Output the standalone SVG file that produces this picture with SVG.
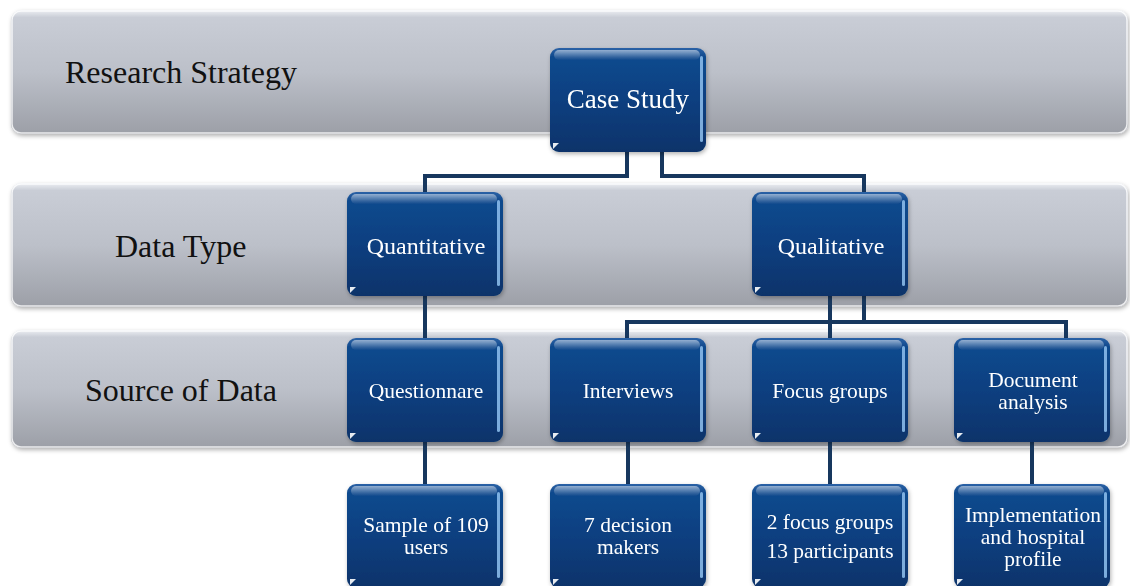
<svg xmlns="http://www.w3.org/2000/svg" width="1130" height="586" viewBox="0 0 1130 586">
<defs>
<linearGradient id="bandG" x1="0" y1="0" x2="0" y2="1">
<stop offset="0" stop-color="#eef0f4"/>
<stop offset="0.06" stop-color="#c9cdd6"/>
<stop offset="0.5" stop-color="#bcc0c9"/>
<stop offset="1" stop-color="#9c9fa7"/>
</linearGradient>
<linearGradient id="nodeG" x1="0" y1="0" x2="0" y2="1">
<stop offset="0" stop-color="#2d62a6"/>
<stop offset="0.08" stop-color="#104a8e"/>
<stop offset="0.5" stop-color="#0b3f80"/>
<stop offset="1" stop-color="#08336a"/>
</linearGradient>
<linearGradient id="gloss" x1="0" y1="0" x2="0" y2="1">
<stop offset="0" stop-color="#ffffff" stop-opacity="0.5"/>
<stop offset="1" stop-color="#ffffff" stop-opacity="0"/>
</linearGradient>
<filter id="sh" x="-10%" y="-10%" width="120%" height="130%">
<feDropShadow dx="1" dy="2" stdDeviation="2" flood-color="#000" flood-opacity="0.3"/>
</filter>
<symbol id="node" viewBox="0 0 156 104" width="156" height="104">
<rect x="0" y="0" width="156" height="104" rx="9" fill="url(#nodeG)"/>
<rect x="4" y="2" width="146" height="10" rx="5" fill="url(#gloss)"/>
<rect x="150" y="8" width="3" height="86" rx="1.5" fill="#8fc1ee" opacity="0.85"/>
<path d="M3,101 L3,95 L9,95 Z" fill="#ffffff" opacity="0.9"/>
</symbol>
</defs>
<style>
.band{fill:url(#bandG);filter:url(#sh)}
.bandhl{fill:none;stroke:#ffffff;stroke-opacity:0.8;stroke-width:1.5}
.lab{font-family:"Liberation Serif","Times New Roman",serif;font-size:32px;fill:#111}
.nt{font-family:"Liberation Serif","Times New Roman",serif;font-size:21.5px;fill:#ffffff;text-anchor:middle}
.nb{filter:url(#sh)}
.con{fill:none;stroke:#17375e;stroke-width:4}
</style>
<rect width="1130" height="586" fill="#ffffff"/>
<g id="bands">
<rect class="band" x="11" y="10" width="1117" height="124" rx="10"/>
<rect class="bandhl" x="12" y="11" width="1115" height="122" rx="9"/>
<rect class="band" x="11" y="183" width="1117" height="124" rx="10"/>
<rect class="bandhl" x="12" y="184" width="1115" height="122" rx="9"/>
<rect class="band" x="11" y="330" width="1117" height="118" rx="10"/>
<rect class="bandhl" x="12" y="331" width="1115" height="116" rx="9"/>
<text class="lab" x="65" y="83">Research Strategy</text>
<text class="lab" x="115" y="257">Data Type</text>
<text class="lab" x="85" y="401">Source of Data</text>
</g>
<g id="connectors">
<path class="con" d="M627,150 V176 H425 V194"/>
<path class="con" d="M662,150 V176 H864 V194"/>
<path class="con" d="M425,294 V340"/>
<path class="con" d="M830,294 V340"/>
<path class="con" d="M864,294 V322 H627 V340"/>
<path class="con" d="M864,322 H1066 V340"/>
<path class="con" d="M425,440 V486"/>
<path class="con" d="M628,440 V486"/>
<path class="con" d="M830,440 V486"/>
<path class="con" d="M1032,440 V486"/>
</g>
<g id="n-case" class="nb"><use href="#node" x="550" y="48"/><text class="nt" x="628" y="108" style="font-size:27px">Case Study</text></g>
<g id="n-quant" class="nb"><use href="#node" x="347" y="192"/><text class="nt" x="426" y="254" style="font-size:24px">Quantitative</text></g>
<g id="n-qual" class="nb"><use href="#node" x="752" y="192"/><text class="nt" x="831" y="254" style="font-size:24px">Qualitative</text></g>
<g id="n-questionnare" class="nb"><use href="#node" x="347" y="338"/><text class="nt" x="426" y="398">Questionnare</text></g>
<g id="n-interviews" class="nb"><use href="#node" x="550" y="338"/><text class="nt" x="628" y="398">Interviews</text></g>
<g id="n-focus" class="nb"><use href="#node" x="752" y="338"/><text class="nt" x="830" y="398">Focus groups</text></g>
<g id="n-doc" class="nb"><use href="#node" x="954" y="338"/><text class="nt" x="1033" y="387">Document</text><text class="nt" x="1033" y="409">analysis</text></g>
<g id="n-sample" class="nb"><use href="#node" x="347" y="484"/><text class="nt" x="426" y="532">Sample of 109</text><text class="nt" x="426" y="554">users</text></g>
<g id="n-decision" class="nb"><use href="#node" x="550" y="484"/><text class="nt" x="628" y="532">7 decision</text><text class="nt" x="628" y="554">makers</text></g>
<g id="n-fg" class="nb"><use href="#node" x="752" y="484"/><text class="nt" x="830" y="529">2 focus groups</text><text class="nt" x="830" y="558">13 participants</text></g>
<g id="n-impl" class="nb"><use href="#node" x="954" y="484"/><text class="nt" x="1033" y="522">Implementation</text><text class="nt" x="1033" y="544">and hospital</text><text class="nt" x="1033" y="566">profile</text></g>
</svg>
